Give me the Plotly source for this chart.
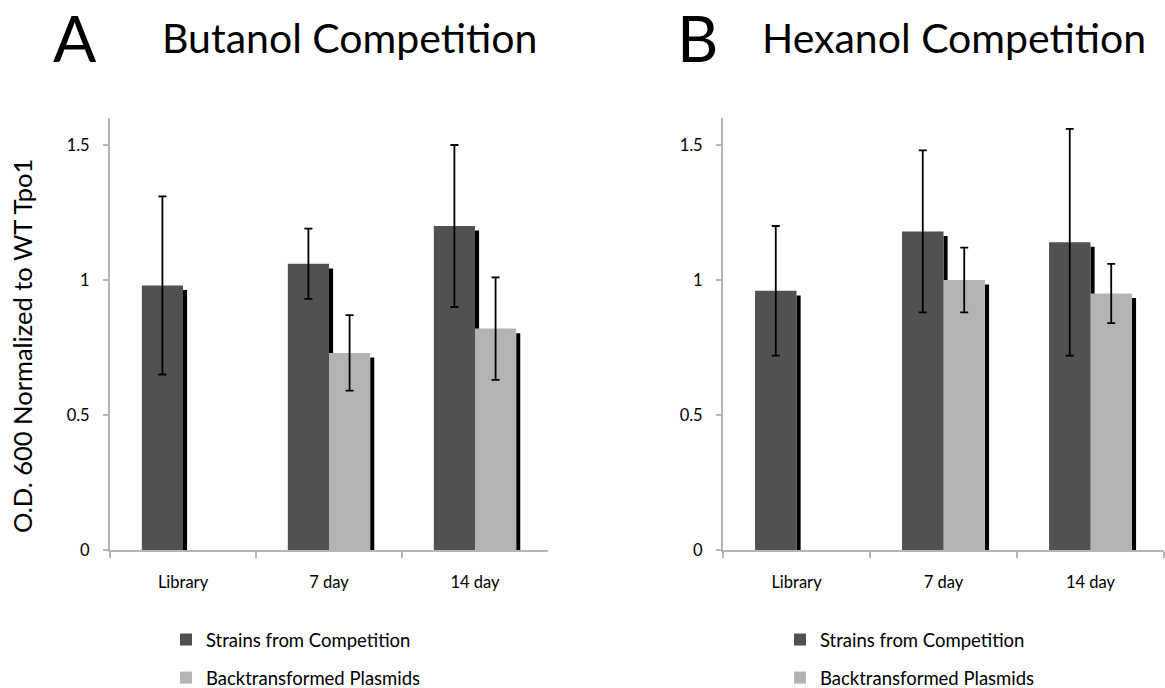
import plotly.graph_objects as go

# ---------------- data ----------------
categories = ["Library", "7 day", "14 day"]
series_names = ["Strains from Competition", "Backtransformed Plasmids"]

butanol_strains = [0.98, 1.06, 1.20]
butanol_strains_err = [0.33, 0.13, 0.30]
butanol_plasmids = [None, 0.73, 0.82]
butanol_plasmids_err = [None, 0.14, 0.19]

hexanol_strains = [0.96, 1.18, 1.14]
hexanol_strains_err = [0.24, 0.30, 0.42]
hexanol_plasmids = [None, 1.00, 0.95]
hexanol_plasmids_err = [None, 0.12, 0.11]

y_ticks = [0, 0.5, 1, 1.5]
y_ticktext = ["0", "0.5", "1", "1.5"]

# ---------------- style ----------------
W, H = 1165, 688
DARK = "#515151"
LIGHT = "#b3b3b3"
AXIS = "#b5b5b5"
FONT = "Lato"
BAR_W = 0.282          # bar width in category units
SH_W = 0.028           # shadow width in category units
SH_DROP = 0.017        # shadow top drop in data units (~4.5 px)


def px_x(p):
    return p / W


def px_y(p):
    return 1 - p / H


fig = go.Figure()


def add_panel(xa, ya, strains, s_err, plasmids, p_err, legend):
    shadow = lambda vals: [None if v is None else v - SH_DROP for v in vals]
    # shadows (drawn first, so the light bar covers the dark shadow)
    fig.add_trace(go.Bar(x=categories, y=shadow(strains), offset=0, width=SH_W,
                         marker=dict(color="black", line=dict(width=0)),
                         xaxis=xa, yaxis=ya, showlegend=False, hoverinfo="skip"))
    fig.add_trace(go.Bar(x=categories, y=shadow(plasmids), offset=BAR_W, width=SH_W,
                         marker=dict(color="black", line=dict(width=0)),
                         xaxis=xa, yaxis=ya, showlegend=False, hoverinfo="skip"))
    fig.add_trace(go.Bar(x=categories, y=strains, offset=-BAR_W, width=BAR_W,
                         name=series_names[0], legendgroup=legend + "a", legend=legend,
                         marker=dict(color=DARK, line=dict(width=0)),
                         error_y=dict(type="data", array=s_err, color="black",
                                      thickness=1.8, width=4),
                         xaxis=xa, yaxis=ya))
    fig.add_trace(go.Bar(x=categories, y=plasmids, offset=0, width=BAR_W,
                         name=series_names[1], legendgroup=legend + "b", legend=legend,
                         marker=dict(color=LIGHT, line=dict(width=0)),
                         error_y=dict(type="data", array=p_err, color="black",
                                      thickness=1.8, width=4),
                         xaxis=xa, yaxis=ya))


add_panel("x", "y", butanol_strains, butanol_strains_err,
          butanol_plasmids, butanol_plasmids_err, "legend")
add_panel("x2", "y2", hexanol_strains, hexanol_strains_err,
          hexanol_plasmids, hexanol_plasmids_err, "legend2")

xaxis_common = dict(type="category", range=[-0.5, 2.5], showline=True, linecolor=AXIS,
                    linewidth=2, ticks="outside", tickson="boundaries", ticklen=6,
                    tickcolor=AXIS, tickwidth=1.5, showgrid=False, zeroline=False,
                    tickfont=dict(family=FONT, size=16.5, color="black"),
                    ticklabelstandoff=16, fixedrange=True)
yaxis_common = dict(range=[0, 1.6], tickvals=y_ticks, ticktext=y_ticktext,
                    showline=True, linecolor=AXIS, linewidth=2, ticks="outside",
                    ticklen=5, tickcolor=AXIS, tickwidth=1.5, showgrid=False,
                    zeroline=False, tickfont=dict(family=FONT, size=16.5, color="black"),
                    ticklabelstandoff=10, fixedrange=True)

ydom = [px_y(550), px_y(118)]

legend_common = dict(orientation="v", traceorder="grouped", tracegroupgap=11,
                     font=dict(family=FONT, size=18.5, color="black"),
                     bgcolor="rgba(0,0,0,0)", xanchor="left", yanchor="top",
                     itemwidth=30)

fig.update_layout(
    width=W, height=H,
    margin=dict(l=0, r=0, t=0, b=0, autoexpand=False),
    paper_bgcolor="white", plot_bgcolor="white",
    barmode="overlay",
    xaxis=dict(domain=[px_x(110), px_x(548)], anchor="y", **xaxis_common),
    yaxis=dict(domain=ydom, anchor="x", **yaxis_common),
    xaxis2=dict(domain=[px_x(723), px_x(1164)], anchor="y2", **xaxis_common),
    yaxis2=dict(domain=ydom, anchor="x2", **yaxis_common),
    legend=dict(x=px_x(166), y=px_y(621), **legend_common),
    legend2=dict(x=px_x(780), y=px_y(621), **legend_common),
    font=dict(family=FONT, color="black"),
    annotations=[
        dict(text="A", x=px_x(75), y=px_y(38), xref="paper", yref="paper",
             showarrow=False, font=dict(family=FONT, size=64, color="black"),
             xanchor="center", yanchor="middle"),
        dict(text="Butanol Competition", x=px_x(349), y=px_y(38), xref="paper",
             yref="paper", showarrow=False,
             font=dict(family=FONT, size=41, color="black"),
             xanchor="center", yanchor="middle"),
        dict(text="B", x=px_x(697), y=px_y(38), xref="paper", yref="paper",
             showarrow=False, font=dict(family=FONT, size=64, color="black"),
             xanchor="center", yanchor="middle"),
        dict(text="Hexanol Competition", x=px_x(954), y=px_y(38), xref="paper",
             yref="paper", showarrow=False,
             font=dict(family=FONT, size=41, color="black"),
             xanchor="center", yanchor="middle"),
        dict(text="O.D. 600 Normalized to WT Tpo1", x=px_x(22), y=px_y(346),
             xref="paper", yref="paper", showarrow=False, textangle=-90,
             font=dict(family=FONT, size=25.5, color="black"),
             xanchor="center", yanchor="middle"),
    ],
)

fig.write_html("out.html")
